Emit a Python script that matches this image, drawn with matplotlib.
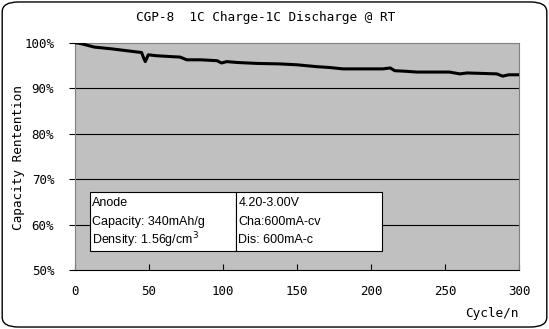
import matplotlib.pyplot as plt
from matplotlib.patches import FancyBboxPatch, Rectangle

# capacity retention curve
cycles = [0, 2, 6, 13, 25, 35, 45, 46.5, 47.5, 49.5, 55, 65, 71, 75.5, 85, 96, 99, 102.5, 110, 123,
          138, 150, 163, 172, 181, 195, 208, 213, 216, 222, 231, 245, 253, 260, 265, 275, 285, 289, 293, 300]
retention = [100.0, 100.0, 99.7, 99.1, 98.7, 98.3, 97.9, 96.6, 95.9, 97.4, 97.2, 97.0, 96.9, 96.3, 96.3, 96.1, 95.6, 95.9, 95.7, 95.5,
             95.4, 95.2, 94.8, 94.6, 94.3, 94.3, 94.3, 94.5, 93.9, 93.8, 93.6, 93.6, 93.6, 93.2, 93.4, 93.3, 93.2, 92.7, 93.0, 93.0]

x_ticks = [0, 50, 100, 150, 200, 250, 300]
y_ticks = [50, 60, 70, 80, 90, 100]
y_labels = ['50%', '60%', '70%', '80%', '90%', '100%']

title = 'CGP-8  1C Charge-1C Discharge @ RT'
left_lines = ['Anode', 'Capacity: 340mAh/g', 'Density: 1.56g/cm$^3$']
right_lines = ['4.20-3.00V', 'Cha:600mA-cv', 'Dis: 600mA-c']

mono = 'DejaVu Sans Mono'

fig = plt.figure(figsize=(5.49, 3.29), dpi=100)
fig.patch.set_facecolor('white')
border = FancyBboxPatch((0.004, 0.006), 0.992, 0.988, boxstyle='round,pad=0,rounding_size=0.03',
                        transform=fig.transFigure, fc='white', ec='black', lw=1.0, zorder=-5)
fig.patches.append(border)

ax = fig.add_axes([0.1366, 0.1793, 0.8088, 0.69])
ax.set_facecolor('#c0c0c0')
ax.plot(cycles, retention, color='black', lw=2.2, solid_joinstyle='round', zorder=4)

ax.set_xlim(0, 300)
ax.set_ylim(50, 100)
ax.set_xticks(x_ticks)
ax.set_yticks(y_ticks)
ax.set_yticklabels(y_labels)
for y in y_ticks[1:-1]:
    ax.axhline(y, color='black', lw=0.8, zorder=2)

ax.tick_params(axis='x', direction='in', length=4, width=0.8, pad=11, labelsize=9)
ax.tick_params(axis='y', direction='out', length=4, width=0.8, pad=11, labelsize=9)
for lab in ax.get_xticklabels() + ax.get_yticklabels():
    lab.set_family(mono)

ax.spines['top'].set_color('#808080')
ax.spines['right'].set_color('#808080')
ax.spines['left'].set_color('#808080')
ax.spines['bottom'].set_color('black')

fig.text(0.4845, 0.948, title, ha='center', va='center', fontsize=9.2, family=mono)
fig.text(0.033, 0.52, 'Capacity Rentention', rotation=90, ha='center', va='center', fontsize=9.2, family=mono)
fig.text(0.945, 0.048, 'Cycle/n', ha='right', va='center', fontsize=9.2, family=mono)

# info box in axes fraction coordinates
bx0, bx1, bx2 = (90 - 75) / 444, (236 - 75) / 444, (382 - 75) / 444
by0, by1 = (270 - 251) / 227, (270 - 192) / 227
for a, b in [(bx0, bx1), (bx1, bx2)]:
    ax.add_patch(Rectangle((a, by0), b - a, by1 - by0, transform=ax.transAxes,
                           fc='white', ec='black', lw=0.8, zorder=5))
for i, (l, r) in enumerate(zip(left_lines, right_lines)):
    yy = (270 - (203 + 18.5 * i)) / 227
    ax.text(bx0 + 0.005, yy, l, transform=ax.transAxes, fontsize=9.0, family='Liberation Sans',
            va='center', zorder=6)
    ax.text(bx1 + 0.005, yy, r, transform=ax.transAxes, fontsize=9.0, family='Liberation Sans',
            va='center', zorder=6)

fig.savefig('out.png', dpi=100)
